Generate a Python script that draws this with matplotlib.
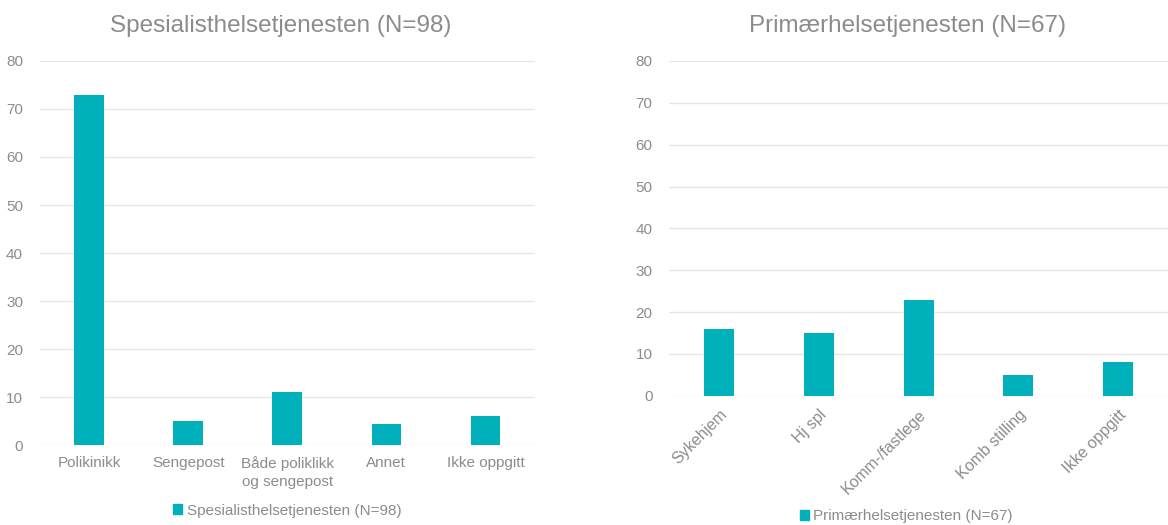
import matplotlib.pyplot as plt
from matplotlib.patches import Patch

plt.rcParams['font.family'] = ['Liberation Sans', 'DejaVu Sans']

# data
spes_cats = ['Polikinikk', 'Sengepost', 'Både poliklikk\nog sengepost', 'Annet', 'Ikke oppgitt']
spes_vals = [73, 5, 11, 4.5, 6]
prim_cats = ['Sykehjem', 'Hj spl', 'Komm-/fastlege', 'Komb stilling', 'Ikke oppgitt']
prim_vals = [16, 15, 23, 5, 8]

teal = '#00B0BA'
grey = '#8C8C8C'
gridc = '#E6E6E6'

fig = plt.figure(figsize=(11.68, 5.25), dpi=100)
ax1 = fig.add_axes([0.034, 0.152, 0.424, 0.732])
ax2 = fig.add_axes([0.573, 0.246, 0.427, 0.638])


def style(ax):
    ax.set_ylim(0, 80)
    ax.set_yticks(range(0, 81, 10))
    ax.set_xlim(-0.5, 4.5)
    ax.grid(axis='y', color=gridc, linewidth=1)
    ax.set_axisbelow(True)
    for s in ax.spines.values():
        s.set_visible(False)
    ax.tick_params(length=0, colors=grey, labelsize=11)
    ax.tick_params(axis='y', pad=12)


ax1.bar(range(5), spes_vals, width=0.3, color=teal)
style(ax1)
ax1.set_xticks(range(5))
ax1.set_xticklabels(spes_cats, linespacing=1.35)
ax1.tick_params(axis='x', pad=8)
fig.text(0.24, 0.95, 'Spesialisthelsetjenesten (N=98)', ha='center', va='center',
         fontsize=17.5, color=grey)
ax1.legend(handles=[Patch(color=teal, label='Spesialisthelsetjenesten (N=98)')],
           loc='center', bbox_to_anchor=(0.5, -0.17), frameon=False,
           fontsize=11, labelcolor=grey, handlelength=0.6, handleheight=0.6,
           handletextpad=0.3)

ax2.bar(range(5), prim_vals, width=0.3, color=teal)
style(ax2)
ax2.set_xticks(range(5))
ax2.set_xticklabels(prim_cats, rotation=45, ha='right', rotation_mode='anchor',
                    fontsize=11.5)
ax2.tick_params(axis='x', pad=8)
fig.text(0.777, 0.95, 'Primærhelsetjenesten (N=67)', ha='center', va='center',
         fontsize=17.5, color=grey)
fig.legend(handles=[Patch(color=teal, label='Primærhelsetjenesten (N=67)')],
           loc='center', bbox_to_anchor=(0.776, 0.017), frameon=False,
           fontsize=11, labelcolor=grey, handlelength=0.6, handleheight=0.6,
           handletextpad=0.3)

fig.savefig('out.png', dpi=100)
